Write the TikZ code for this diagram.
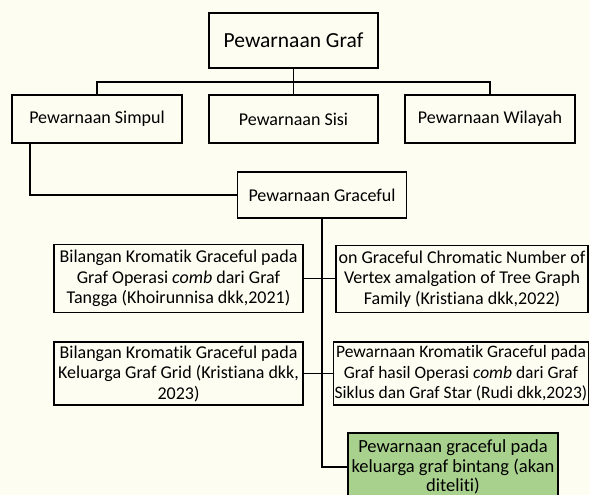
\documentclass[tikz,border=0pt]{standalone}
\usepackage{fontspec}
\setmainfont{Carlito}[Ligatures=NoCommon]
\begin{document}
\begin{tikzpicture}[x=1pt,y=-1pt,
  box/.style={draw=black,line width=1.1pt,fill=boxbg,align=center,inner sep=1pt,font=\fontsize{18}{20.5}\selectfont},
  conn/.style={line width=1.1pt,draw=black}]
\definecolor{bg}{RGB}{253,253,242}
\definecolor{boxbg}{RGB}{253,253,242}
\definecolor{greenbox}{RGB}{169,209,142}
\fill[bg] (0,0) rectangle (590,495);
\useasboundingbox (0,0) rectangle (590,495);
\node[box,minimum width=169pt,minimum height=55pt,font=\fontsize{21.5}{24}\selectfont] (graf) at (293.5,40.5) {Pewarnaan Graf};
\node[box,minimum width=170pt,minimum height=48pt] (simpul) at (97,119) {Pewarnaan Simpul};
\node[box,minimum width=169pt,minimum height=48pt] (sisi) at (293.5,119) {Pewarnaan Sisi};
\node[box,minimum width=170pt,minimum height=48pt] (wilayah) at (490,119) {Pewarnaan Wilayah};
\node[box,minimum width=169pt,minimum height=46pt] (graceful) at (322,195) {Pewarnaan Graceful};
\node[box,minimum width=249pt,minimum height=68pt] (a) at (178.5,278.5) {Bilangan Kromatik Graceful pada\\Graf Operasi \textit{comb} dari Graf\\Tangga (Khoirunnisa dkk,2021)};
\node[box,minimum width=252pt,minimum height=67pt] (b) at (462,279) {on Graceful Chromatic Number of\\Vertex amalgation of Tree Graph\\Family (Kristiana dkk,2022)};
\node[box,minimum width=249pt,minimum height=63pt] (c) at (178.5,373.5) {Bilangan Kromatik Graceful pada\\Keluarga Graf Grid (Kristiana dkk,\\2023)};
\node[box,minimum width=252pt,minimum height=63pt,font=\fontsize{17.5}{20.5}\selectfont] (d) at (461,373.5) {Pewarnaan Kromatik Graceful pada\\Graf hasil Operasi \textit{comb} dari Graf\\Siklus dan Graf Star (Rudi dkk,2023)};
\node[box,fill=greenbox,minimum width=210pt,minimum height=68pt,font=\fontsize{18.5}{19.5}\selectfont] (e) at (453,467) {Pewarnaan graceful pada\\keluarga graf bintang (akan\\diteliti)};
\coordinate (bus) at (293.5,82);
\coordinate (simpulleg) at (30,143);
\draw[conn] (simpul.north) |- (bus) -| (wilayah.north);
\draw[conn] (graf.south) -- (sisi.north);
\draw[conn] (simpulleg) |- (graceful.west);
\draw[conn] (graceful.south) |- (e.west);
\draw[conn] (a.east) -- (a.east -| b.west);
\draw[conn] (c.east) -- (d.west);
\end{tikzpicture}
\end{document}
